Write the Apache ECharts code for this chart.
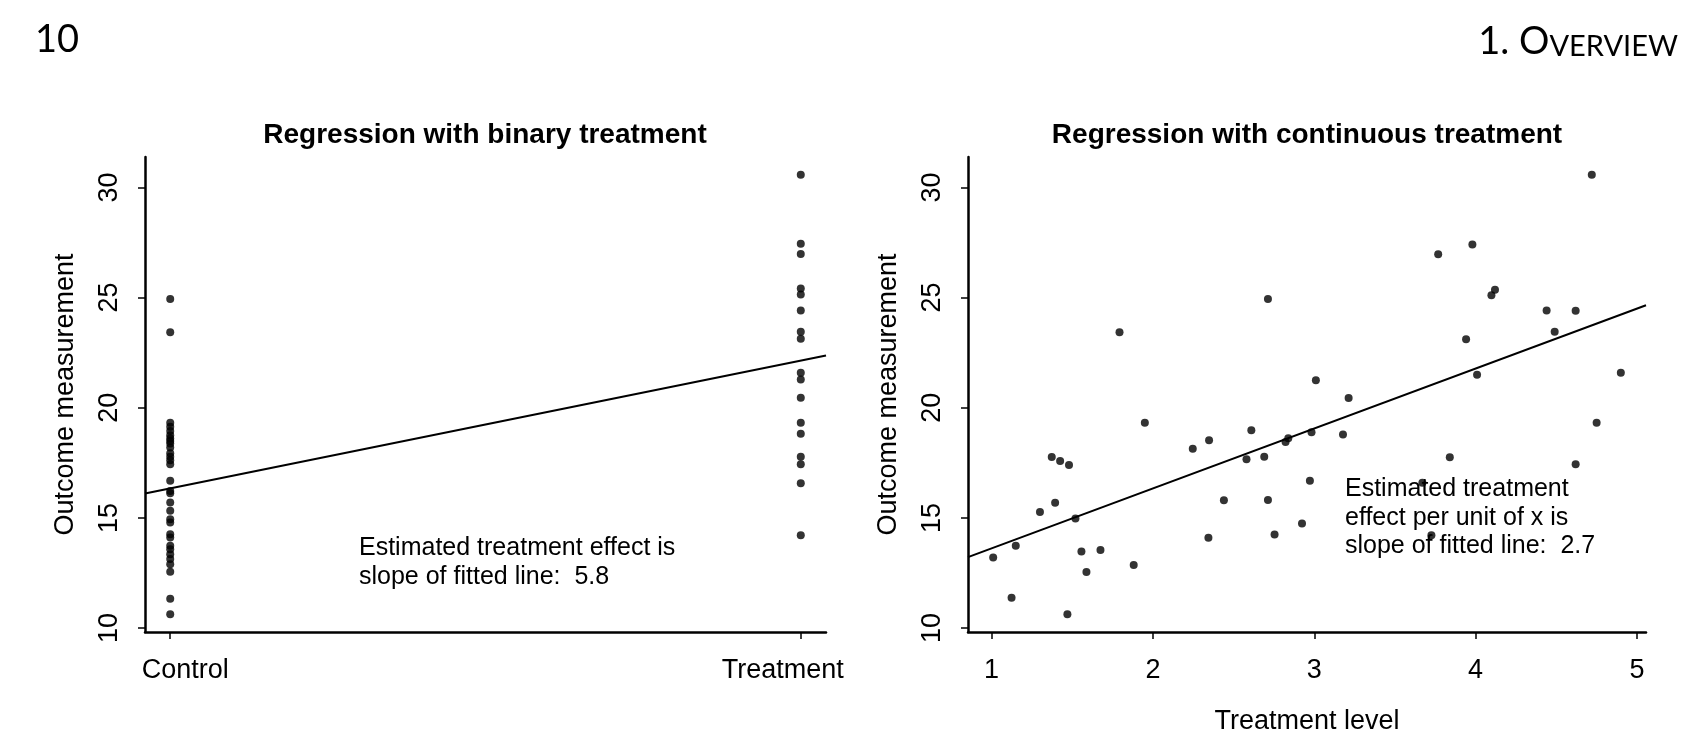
<!DOCTYPE html>
<html><head><meta charset="utf-8">
<script src="https://cdn.jsdelivr.net/npm/echarts@6/dist/echarts.min.js"></script>
<style>html,body{margin:0;padding:0;background:#fff}#c{width:1703px;height:745px}</style>
</head><body><div id="c"></div>
<script>
// ---- data ----
const binaryCategories = ['Control', 'Treatment'];
const controlY = [24.94, 23.43, 19.32, 19.14, 18.94, 18.75, 18.6, 18.49, 18.38, 18.19, 17.93, 17.78, 17.61, 17.43,
  16.68, 16.22, 16.12, 15.7, 15.32, 14.94, 14.79, 14.26, 14.11, 13.73, 13.58, 13.35, 13.13, 12.9, 12.55, 11.33, 10.62];
const treatmentY = [30.58, 27.44, 26.98, 25.41, 25.14, 24.41, 23.45, 23.13, 21.59, 21.28, 20.45, 19.32, 18.82,
  17.78, 17.43, 16.57, 14.21];
const contX = [1.01, 1.15, 1.124, 1.30, 1.373, 1.394, 1.425, 1.48, 1.52, 1.557, 1.588, 1.675, 1.793, 1.881, 1.95,
  2.247, 2.348, 2.344, 2.44, 2.58, 2.61, 2.69, 2.713, 2.713, 2.754, 2.822, 2.839, 2.924, 2.973, 2.983, 3.01, 3.178,
  3.213, 3.67, 3.726, 3.768, 3.84, 3.941, 3.98, 4.009, 4.098, 4.12, 4.44, 4.49, 4.62, 4.62, 4.72, 4.75, 4.90, 1.47];
const contY = [13.2, 13.73, 11.38, 15.27, 17.76, 15.69, 17.58, 17.40, 14.97, 13.47, 12.54, 13.54, 23.43, 12.86, 19.32,
  18.14, 18.52, 14.1, 15.8, 17.66, 18.98, 17.78, 24.94, 15.81, 14.24, 18.44, 18.61, 14.74, 16.69, 18.89, 21.25, 18.79,
  20.44, 16.6, 14.21, 26.97, 17.75, 23.11, 27.41, 21.5, 25.11, 25.36, 24.41, 23.45, 24.4, 17.43, 30.58, 19.32, 21.59, 10.62];
const binaryFitX = [-0.04, 1.04];
const binaryFitY = [16.11, 22.37];
const contFitX = [0.854, 5.056];
const contFitY = [13.22, 24.65];
const yTicks = [10, 15, 20, 25, 30];
const contXTicks = [1, 2, 3, 4, 5];
const binaryXTicks = [0, 1];
const titles = ['Regression with binary treatment', 'Regression with continuous treatment'];
const yName = 'Outcome measurement';
const xNameRight = 'Treatment level';
const noteLeft = 'Estimated treatment effect is\nslope of fitted line:  5.8';
const noteRight = 'Estimated treatment\neffect per unit of x is\nslope of fitted line:  2.7';
const pageNumber = '10';

// ---- chart ----
const FONT = '"Liberation Sans", Arial, sans-serif';
const chart = echarts.init(document.getElementById('c'));
const axisLineStyle = { show: true, onZero: false, lineStyle: { color: '#000', width: 2.5 } };
const tickStyle = { color: '#000', width: 1.5 };
function yAxisCfg(gi) {
  return {
    type: 'value', gridIndex: gi, min: 9.82, max: 31.38,
    name: yName, nameLocation: 'middle', nameGap: 66, nameRotate: 90,
    nameTextStyle: { fontFamily: FONT, fontSize: 27, color: '#000' },
    axisLine: axisLineStyle,
    axisTick: { show: true, inside: false, length: 7, lineStyle: tickStyle, customValues: yTicks },
    axisLabel: { rotate: 90, margin: 22, fontFamily: FONT, fontSize: 27, color: '#000', customValues: yTicks },
    splitLine: { show: false }
  };
}
const option = {
  animation: false,
  backgroundColor: '#fff',
  grid: [
    { left: 145, right: 877, top: 157, bottom: 113 },
    { left: 968, right: 57, top: 157, bottom: 113 }
  ],
  xAxis: [
    {
      type: 'value', gridIndex: 0, min: -0.04, max: 1.04,
      axisLine: axisLineStyle,
      axisTick: { show: true, length: 7, lineStyle: tickStyle, customValues: binaryXTicks },
      axisLabel: { margin: 25, fontFamily: FONT, fontSize: 27, color: '#000', customValues: binaryXTicks,
        formatter: v => (Math.round(v) === 0 ? '{c|' : '{t|') + binaryCategories[Math.round(v)] + '}',
        rich: {
          c: { fontFamily: FONT, fontSize: 27, color: '#000', padding: [0, 0, 0, 30] },
          t: { fontFamily: FONT, fontSize: 27, color: '#000', padding: [0, 36, 0, 0] }
        } },
      splitLine: { show: false }
    },
    {
      type: 'value', gridIndex: 1, min: 0.854, max: 5.056,
      name: xNameRight, nameLocation: 'middle', nameGap: 76,
      nameTextStyle: { fontFamily: FONT, fontSize: 27, color: '#000' },
      axisLine: axisLineStyle,
      axisTick: { show: true, length: 7, lineStyle: tickStyle, customValues: contXTicks },
      axisLabel: { margin: 25, fontFamily: FONT, fontSize: 27, color: '#000', customValues: contXTicks },
      splitLine: { show: false }
    }
  ],
  yAxis: [yAxisCfg(0), yAxisCfg(1)],
  series: [
    { type: 'scatter', xAxisIndex: 0, yAxisIndex: 0, symbolSize: 8, itemStyle: { color: '#000' },
      data: controlY.map(v => [0, v]) },
    { type: 'scatter', xAxisIndex: 0, yAxisIndex: 0, symbolSize: 8, itemStyle: { color: '#000' },
      data: treatmentY.map(v => [1, v]) },
    { type: 'line', xAxisIndex: 0, yAxisIndex: 0, symbol: 'none', lineStyle: { color: '#000', width: 2 },
      data: binaryFitX.map((x, i) => [x, binaryFitY[i]]) },
    { type: 'scatter', xAxisIndex: 1, yAxisIndex: 1, symbolSize: 8, itemStyle: { color: '#000' },
      data: contX.map((x, i) => [x, contY[i]]) },
    { type: 'line', xAxisIndex: 1, yAxisIndex: 1, symbol: 'none', lineStyle: { color: '#000', width: 2 },
      data: contFitX.map((x, i) => [x, contFitY[i]]) }
  ],
  graphic: [
    { type: 'text', x: 485, y: 135, style: { text: titles[0], font: 'bold 28px ' + FONT, fill: '#000', align: 'center', verticalAlign: 'middle' } },
    { type: 'text', x: 1307, y: 135, style: { text: titles[1], font: 'bold 28px ' + FONT, fill: '#000', align: 'center', verticalAlign: 'middle' } },
    { type: 'text', x: 359, y: 534, style: { text: noteLeft, font: '25px ' + FONT, lineHeight: 29, fill: '#000', align: 'left', verticalAlign: 'top' } },
    { type: 'text', x: 1345, y: 475, style: { text: noteRight, font: '25px ' + FONT, lineHeight: 28.5, fill: '#000', align: 'left', verticalAlign: 'top' } },
    { type: 'text', x: 35, y: 40, style: { text: pageNumber, font: '38px Lato, sans-serif', fill: '#000', align: 'left', verticalAlign: 'middle' } },
    { type: 'text', x: 1678, y: 42, style: { text: '{a|1. O}{b|VERVIEW}', align: 'right', verticalAlign: 'middle',
        rich: { a: { font: '38px Lato, sans-serif', fill: '#000', verticalAlign: 'bottom' }, b: { font: '29px Lato, sans-serif', fill: '#000', verticalAlign: 'bottom' } } } }
  ]
};
chart.setOption(option);
</script>
</body></html>
